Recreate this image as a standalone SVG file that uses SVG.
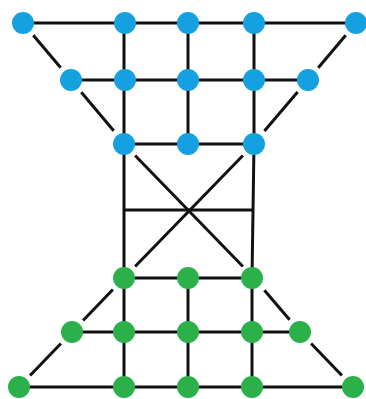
<svg xmlns="http://www.w3.org/2000/svg" width="366" height="399" viewBox="0 0 366 399">
<style>
.e{stroke:#111;stroke-width:3;fill:none;stroke-linecap:butt}
.b{fill:#15a0e0}
.g{fill:#2cb14a}
</style>
<rect width="366" height="399" fill="#fff"/>
<g id="connectors">
<line class="e" x1="23" y1="23" x2="356" y2="23"/>
<line class="e" x1="71" y1="80" x2="308" y2="80"/>
<line class="e" x1="124" y1="144" x2="254" y2="144"/>
<line class="e" x1="124" y1="210" x2="254" y2="210"/>
<line class="e" x1="124" y1="278" x2="252" y2="278"/>
<line class="e" x1="72" y1="332" x2="300" y2="332"/>
<line class="e" x1="19" y1="387" x2="353" y2="387"/>
<line class="e" x1="124" y1="23" x2="124" y2="387"/>
<line class="e" x1="188" y1="23" x2="188" y2="144"/>
<line class="e" x1="188" y1="278" x2="188" y2="387"/>
<line class="e" x1="254" y1="23" x2="254" y2="144"/>
<line class="e" x1="254" y1="144" x2="252" y2="278"/>
<line class="e" x1="252" y1="278" x2="252" y2="387"/>
<line class="e" x1="33.3" y1="35.2" x2="60.7" y2="67.8"/>
<line class="e" x1="81.3" y1="92.2" x2="113.7" y2="130.8"/>
<line class="e" x1="135.1" y1="155.5" x2="242.9" y2="266.5"/>
<line class="e" x1="264.4" y1="290.2" x2="289.6" y2="319.8"/>
<line class="e" x1="311.1" y1="343.5" x2="341.9" y2="375.5"/>
<line class="e" x1="345.7" y1="35.2" x2="318.3" y2="67.8"/>
<line class="e" x1="297.6" y1="92.1" x2="264.4" y2="130.9"/>
<line class="e" x1="242.9" y1="155.5" x2="135.1" y2="266.5"/>
<line class="e" x1="112.9" y1="289.5" x2="83.1" y2="320.5"/>
<line class="e" x1="60.9" y1="343.5" x2="30.1" y2="375.5"/>
</g>
<g id="n1"><circle class="b" cx="23" cy="23" r="11"/></g>
<g id="n2"><circle class="b" cx="125" cy="23" r="11"/></g>
<g id="n3"><circle class="b" cx="188" cy="23" r="11"/></g>
<g id="n4"><circle class="b" cx="254" cy="23" r="11"/></g>
<g id="n5"><circle class="b" cx="356" cy="23" r="11"/></g>
<g id="n6"><circle class="b" cx="71" cy="80" r="11"/></g>
<g id="n7"><circle class="b" cx="125" cy="80" r="11"/></g>
<g id="n8"><circle class="b" cx="188" cy="80" r="11"/></g>
<g id="n9"><circle class="b" cx="254" cy="80" r="11"/></g>
<g id="n10"><circle class="b" cx="308" cy="80" r="11"/></g>
<g id="n11"><circle class="b" cx="124" cy="144" r="11"/></g>
<g id="n12"><circle class="b" cx="188" cy="144" r="11"/></g>
<g id="n13"><circle class="b" cx="254" cy="144" r="11"/></g>
<g id="n14"><circle class="g" cx="124" cy="278" r="11"/></g>
<g id="n15"><circle class="g" cx="188" cy="278" r="11"/></g>
<g id="n16"><circle class="g" cx="252" cy="278" r="11"/></g>
<g id="n17"><circle class="g" cx="72" cy="332" r="11"/></g>
<g id="n18"><circle class="g" cx="124" cy="332" r="11"/></g>
<g id="n19"><circle class="g" cx="188" cy="332" r="11"/></g>
<g id="n20"><circle class="g" cx="252" cy="332" r="11"/></g>
<g id="n21"><circle class="g" cx="300" cy="332" r="11"/></g>
<g id="n22"><circle class="g" cx="19" cy="387" r="11"/></g>
<g id="n23"><circle class="g" cx="124" cy="387" r="11"/></g>
<g id="n24"><circle class="g" cx="188" cy="387" r="11"/></g>
<g id="n25"><circle class="g" cx="252" cy="387" r="11"/></g>
<g id="n26"><circle class="g" cx="353" cy="387" r="11"/></g>
</svg>
